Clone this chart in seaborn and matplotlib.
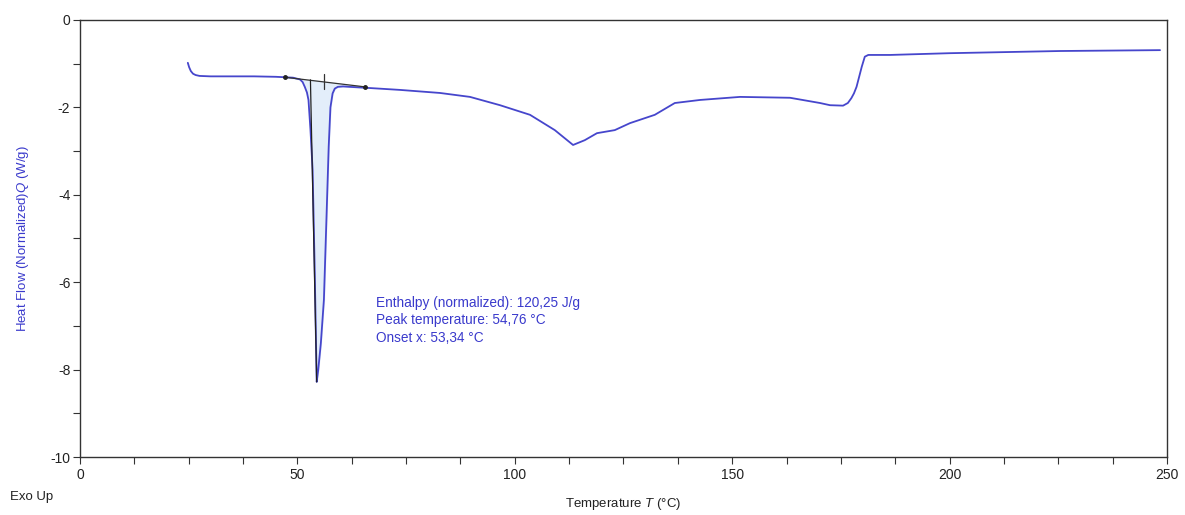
import numpy as np
import pandas as pd
import matplotlib
matplotlib.use("Agg")
import matplotlib.pyplot as plt
import seaborn as sns
from matplotlib.ticker import MultipleLocator

# Temperature (°C) and heat flow (W/g)
temperature = [24.8, 25.1, 25.5, 26.0, 26.6, 27.5, 30.0, 35.0, 40.0, 45.0, 47.1, 49.0,
               50.6, 51.2, 51.7, 52.2, 52.55, 53.0, 53.5, 54.0, 54.44, 54.8, 55.4,
               56.1, 56.7, 57.2, 57.6, 58.1, 58.6, 59.3, 60.5, 62.0,
               65.5, 73.6, 82.8, 89.7, 96.6, 103.5, 109.2, 113.4, 116.1, 118.9, 123.0,
               126.5, 132.2, 136.8, 142.6, 151.8, 163.3, 170.2, 172.5, 175.5, 176.6,
               177.4, 178.0, 178.6, 179.2, 179.8, 180.5, 181.3, 186.3, 200.0, 225.4, 248.4]
heat_flow = [-0.98, -1.08, -1.17, -1.23, -1.26, -1.28, -1.29, -1.29, -1.29, -1.30, -1.31, -1.32,
             -1.36, -1.42, -1.53, -1.66, -1.83, -2.50, -3.43, -5.80, -8.28, -8.00, -7.39,
             -6.40, -4.50, -2.90, -2.00, -1.68, -1.57, -1.53, -1.52, -1.53,
             -1.55, -1.60, -1.67, -1.76, -1.95, -2.17, -2.52, -2.86, -2.75, -2.59, -2.52,
             -2.36, -2.17, -1.90, -1.83, -1.76, -1.78, -1.90, -1.95, -1.96, -1.90,
             -1.79, -1.68, -1.53, -1.30, -1.07, -0.84, -0.80, -0.80, -0.76, -0.71, -0.69]

baseline_x = [47.1, 65.5]
baseline_y = [-1.31, -1.53]
annotation_lines = ["Enthalpy (normalized): 120,25 J/g",
                    "Peak temperature: 54,76 °C",
                    "Onset x: 53,34 °C"]

df = pd.DataFrame({"T": temperature, "Q": heat_flow})

sns.set_style("white")
plt.rcParams['font.family'] = ['Liberation Sans', 'DejaVu Sans']
plt.rcParams['axes.unicode_minus'] = False
plt.rcParams['mathtext.fontset'] = 'custom'
plt.rcParams['mathtext.it'] = 'Liberation Sans:italic'
plt.rcParams['mathtext.rm'] = 'Liberation Sans'

fig = plt.figure(figsize=(11.85, 5.15), dpi=100)
ax = fig.add_axes([0.0675, 0.1126, 0.9173, 0.8486])

line_color = "#4646cc"
text_color = "#3a3acc"

# fill between peak and baseline
mask = (df["T"] >= baseline_x[0]) & (df["T"] <= baseline_x[1])
sub = df[mask]
base_interp = np.interp(sub["T"], baseline_x, baseline_y)
ax.fill_between(sub["T"], sub["Q"], base_interp, color="#e3eefa", zorder=1)

sns.lineplot(data=df, x="T", y="Q", ax=ax, color=line_color, linewidth=1.3,
             sort=False, estimator=None, zorder=3)

# baseline and markers
ax.plot(baseline_x, baseline_y, color="#333333", linewidth=0.9, zorder=4)
ax.plot(baseline_x, baseline_y, 'o', color="#222222", markersize=2.5, zorder=5)
ax.plot([56.1, 56.1], [-1.24, -1.58], color="#333333", linewidth=0.9, zorder=4)
ax.plot([53.0, 54.44], [-1.37, -8.28], color="#222222", linewidth=0.9, zorder=4)

ax.text(68.1, -6.87, "\n".join(annotation_lines), color=text_color, fontsize=9.8,
        va="center", ha="left", linespacing=1.3)

ax.set_xlim(0, 250)
ax.set_ylim(-10, 0)
ax.xaxis.set_major_locator(MultipleLocator(50))
ax.xaxis.set_minor_locator(MultipleLocator(12.5))
ax.yaxis.set_major_locator(MultipleLocator(2))
ax.yaxis.set_minor_locator(MultipleLocator(1))
ax.tick_params(axis="both", which="both", direction="out", length=5, width=0.8,
               colors="#333333", labelsize=10, labelcolor="#222222")
ax.tick_params(axis="x", which="both", bottom=True, pad=3)
ax.tick_params(axis="y", which="both", left=True, pad=2)

for s in ax.spines.values():
    s.set_color("#333333")
    s.set_linewidth(1.0)

ax.set_xlabel("Temperature $\\mathit{T}$ (°C)", fontsize=9.5, color="#222222", labelpad=10)
ax.set_ylabel("Heat Flow (Normalized)$\\mathit{Q}$ (W/g)", fontsize=9.5, color=text_color, labelpad=14)

fig.text(10 / 1185, 1 - 497 / 515, "Exo Up", fontsize=9.5, color="#222222",
         ha="left", va="center")

fig.savefig("out.png", dpi=100)
